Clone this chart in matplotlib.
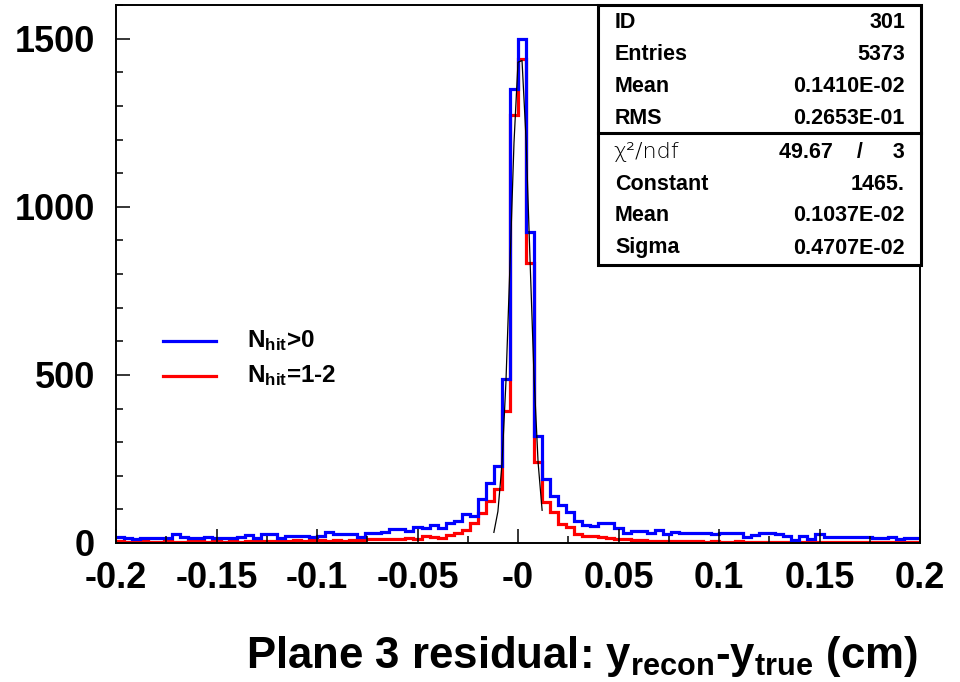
import numpy as np
import matplotlib
matplotlib.use("Agg")
import matplotlib.pyplot as plt
from matplotlib.ticker import MultipleLocator
from matplotlib.lines import Line2D
from matplotlib.patches import Rectangle

plt.rcParams['font.family'] = ['Liberation Sans', 'DejaVu Sans']
plt.rcParams['mathtext.fontset'] = 'custom'
plt.rcParams['mathtext.rm'] = 'Liberation Sans:bold'
plt.rcParams['mathtext.it'] = 'Liberation Sans:bold'
plt.rcParams['mathtext.bf'] = 'Liberation Sans:bold'

# histogram binning
x_lo, x_hi, n_bins = -0.2, 0.2, 100

# N_hit > 0 (blue), bin contents left to right
blue_counts = [
    19, 14, 11, 14, 14, 14, 16, 26, 17, 14,
    15, 18, 15, 14, 14, 17, 24, 14, 26, 26,
    14, 21, 21, 21, 17, 21, 34, 26, 26, 26,
    17, 29, 29, 34, 41, 41, 37, 47, 46, 54,
    44, 58, 65, 85, 81, 131, 178, 229, 488, 1351,
    1499, 926, 318, 190, 140, 112, 93, 65, 55, 52,
    58, 58, 44, 29, 37, 37, 31, 39, 27, 34,
    31, 31, 31, 31, 27, 31, 31, 31, 17, 24,
    29, 29, 26, 22, 9, 20, 11, 26, 17, 17,
    17, 17, 17, 17, 14, 14, 17, 11, 14, 14,
]

# N_hit = 1-2 (red)
red_counts = [
    5, 4, 4, 5, 4, 4, 5, 4, 4, 5,
    6, 4, 5, 4, 5, 4, 6, 5, 5, 6,
    6, 6, 9, 6, 8, 9, 6, 9, 6, 9,
    9, 11, 11, 12, 11, 12, 16, 12, 21, 19,
    14, 24, 29, 39, 60, 90, 125, 160, 394, 1273,
    1440, 833, 242, 123, 93, 57, 48, 27, 22, 20,
    17, 15, 13, 11, 9, 8, 7, 7, 6, 6,
    5, 6, 5, 4, 5, 4, 4, 5, 4, 3,
    4, 4, 3, 4, 3, 4, 3, 4, 3, 4,
    3, 4, 3, 3, 4, 3, 3, 4, 3, 3,
]

# gaussian fit (from stats box)
fit_const, fit_mean, fit_sigma = 1465.0, 0.1037e-02, 0.4707e-02
fit_lo, fit_hi = -0.012, 0.012

x_ticks = [-0.2, -0.15, -0.1, -0.05, 0.0, 0.05, 0.1, 0.15, 0.2]
x_ticklabels = ['-0.2', '-0.15', '-0.1', '-0.05', '-0', '0.05', '0.1', '0.15', '0.2']
y_ticks = [0, 500, 1000, 1500]

stats_rows = [('ID', '301'), ('Entries', '5373'), ('Mean', '0.1410E-02'), ('RMS', '0.2653E-01')]
fit_rows = [('Constant', '1465.'), ('Mean', '0.1037E-02'), ('Sigma', '0.4707E-02')]
chi2_text = '49.67    /     3'

W, H = 960, 682
fig = plt.figure(figsize=(W / 100, H / 100), dpi=100)
ax = fig.add_axes([116 / W, 1 - 543 / H, (920 - 116) / W, (543 - 5) / H])

edges = np.linspace(x_lo, x_hi, n_bins + 1)
ax.stairs(red_counts, edges, color='#ff0000', linewidth=2.3, baseline=None)
ax.stairs(blue_counts, edges, color='#0000ff', linewidth=2.3, baseline=None)

xf = np.linspace(fit_lo, fit_hi, 13)
ax.plot(xf, fit_const * np.exp(-0.5 * ((xf - fit_mean) / fit_sigma) ** 2),
        color='black', linewidth=0.9)

ax.set_xlim(x_lo, x_hi)
ax.set_ylim(0, 1600)
ax.set_xticks(x_ticks)
ax.set_xticklabels(x_ticklabels)
ax.set_yticks(y_ticks)
ax.xaxis.set_minor_locator(MultipleLocator(0.025))
ax.yaxis.set_minor_locator(MultipleLocator(100))
ax.tick_params(which='both', direction='in', top=False, right=False, width=1.1)
ax.tick_params(which='major', length=10, labelsize=26)
ax.tick_params(which='minor', length=5)
ax.tick_params(axis='x', pad=13)
ax.tick_params(axis='y', pad=15)
for lab in ax.get_xticklabels() + ax.get_yticklabels():
    lab.set_fontweight('bold')
for sp in ax.spines.values():
    sp.set_linewidth(1.4)

fig.text(918 / W, 1 - 668 / H, r'Plane 3 residual: y$_{\rm recon}$-y$_{\rm true}$ (cm)',
         ha='right', va='baseline', fontsize=31.5, fontweight='bold')

# legend
for yy, col, lab in [(341, '#0000ff', r'N$_{\rm hit}$>0'), (376, '#ff0000', r'N$_{\rm hit}$=1-2')]:
    fig.add_artist(Line2D([163 / W, 216 / W], [1 - yy / H, 1 - yy / H], color=col, linewidth=2.3))
    fig.text(247 / W, 1 - yy / H, lab, ha='left', va='center', fontsize=17.5, fontweight='bold')

# stats box
box_l, box_r, box_t, box_b, box_mid = 598, 921, 5, 265, 133
fig.add_artist(Rectangle((box_l / W, 1 - box_b / H), (box_r - box_l) / W, (box_b - box_t) / H,
                         transform=fig.transFigure, facecolor='white', edgecolor='black',
                         linewidth=2.2, zorder=5))
fig.add_artist(Line2D([box_l / W, box_r / W], [1 - box_mid / H] * 2, color='black',
                      linewidth=2.2, zorder=6))
row_y = [23, 55, 87, 119]
for (k, v), yy in zip(stats_rows, row_y):
    fig.text(615 / W, 1 - yy / H, k, ha='left', va='center', fontsize=15.5, fontweight='bold', zorder=7)
    fig.text(905 / W, 1 - yy / H, v, ha='right', va='center', fontsize=15.5, fontweight='bold', zorder=7)
fig.text(613 / W, 1 - 152 / H, '\u03c7\u00b2/ndf', ha='left', va='center', fontsize=16,
         family='DejaVu Sans', fontweight='light', zorder=7)
fig.text(905 / W, 1 - 152 / H, chi2_text, ha='right', va='center', fontsize=15.5,
         fontweight='bold', zorder=7)
for (k, v), yy in zip(fit_rows, [184, 216, 248]):
    fig.text(615 / W, 1 - yy / H, k, ha='left', va='center', fontsize=15.5, fontweight='bold', zorder=7)
    fig.text(905 / W, 1 - yy / H, v, ha='right', va='center', fontsize=15.5, fontweight='bold', zorder=7)

fig.savefig('out.png', dpi=100, facecolor='white')
